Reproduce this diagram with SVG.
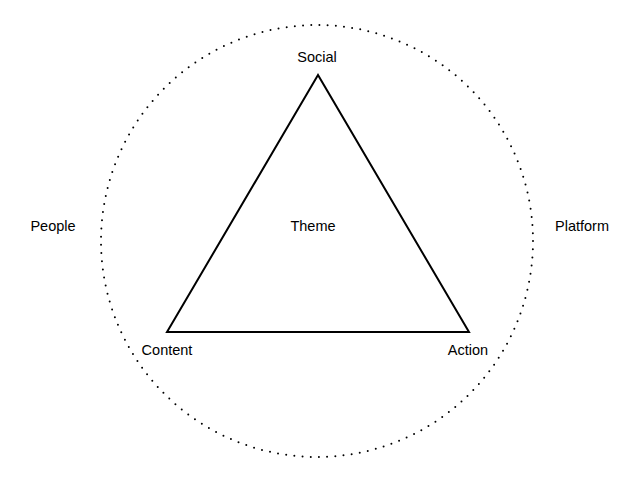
<svg xmlns="http://www.w3.org/2000/svg" width="640" height="477" viewBox="0 0 640 477">
<style>
text{font-family:"Liberation Sans",Arial,sans-serif;font-size:14.5px;fill:#000;text-anchor:middle}
.ring{fill:none;stroke:#000;stroke-width:2;stroke-dasharray:0 8.225;stroke-linecap:round}
.tri{fill:none;stroke:#000;stroke-width:2;stroke-linejoin:miter}
</style>
<rect width="640" height="477" fill="#fff"/>
<g id="connectors">
<circle class="ring" cx="317" cy="241" r="216"/>
<polygon class="tri" points="318,75 167,332 469,332"/>
</g>
<g id="social"><text x="317" y="62">Social</text></g>
<g id="theme"><text x="313" y="231">Theme</text></g>
<g id="people"><text x="53" y="231">People</text></g>
<g id="platform"><text x="582" y="231">Platform</text></g>
<g id="content"><text x="167" y="355">Content</text></g>
<g id="action"><text x="468" y="355">Action</text></g>
</svg>
